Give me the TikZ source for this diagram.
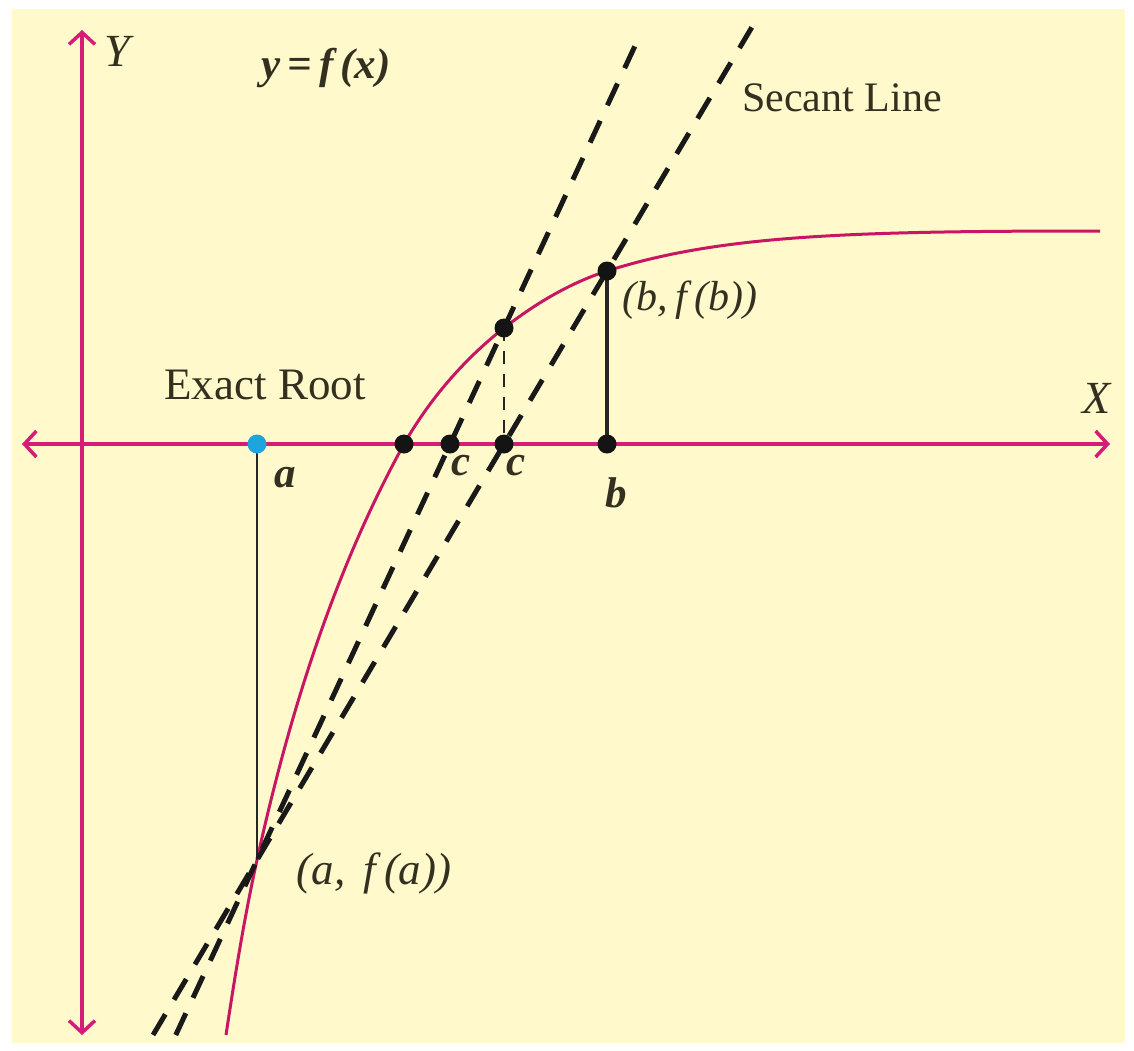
\documentclass[tikz,border=0pt]{standalone}
\usepackage{fontspec}
\setmainfont{Liberation Serif}
\usetikzlibrary{arrows.meta,calc}
\definecolor{bgyellow}{RGB}{255,249,204}
\definecolor{axismag}{RGB}{214,28,118}
\definecolor{curvemag}{RGB}{200,22,98}
\definecolor{txt}{RGB}{52,48,32}
\definecolor{dotblue}{RGB}{30,165,222}
\begin{document}
\begin{tikzpicture}[x=1pt,y=-1pt,
  axisline/.style={draw=axismag,line width=3.5pt,
    {Straight Barb[length=12pt,width=26pt,line width=3.5pt]}-{Straight Barb[length=12pt,width=26pt,line width=3.5pt]}},
  curveline/.style={draw=curvemag,line width=3pt},
  secant/.style={draw=black!90,line width=5pt,dash pattern=on 24pt off 17pt},
  thindash/.style={draw=black!85,line width=2pt,dash pattern=on 13pt off 10pt},
  dropline/.style={draw=black!85,line width=#1},
  dropline/.default=2.5pt,
  blackdot/.style={circle,fill=black!92,minimum size=19pt,inner sep=0pt},
  bluedot/.style={circle,fill=dotblue,minimum size=19pt,inner sep=0pt},
  lbl/.style={text=txt,inner sep=0pt,font=\fontsize{42}{50}\selectfont},
  mlbl/.style={text=txt,inner sep=0pt,font=\fontsize{43}{50}\selectfont\bfseries\itshape},
]
\useasboundingbox (0,0) rectangle (1134,1050);
\fill[white] (0,0) rectangle (1134,1050);
\fill[bgyellow] (12,9) rectangle (1125,1043);

% key points
\coordinate (ytop) at (82,30);
\coordinate (ybot) at (82,1035);
\coordinate (xleft) at (22,444);
\coordinate (xright) at (1110,444);
\coordinate (pa) at (257,444);
\coordinate (fa) at (257,860);
\coordinate (root) at (404,444);
\coordinate (fc) at (504,328);
\coordinate (pc2) at (504,444);
\coordinate (pb) at (607,444);
\coordinate (fb) at (607,271);
\coordinate (pc1) at (450,444);
\coordinate (cstart) at (226,1035);
\coordinate (cend) at (1100,231);

% axes
\draw[axisline] (xleft) -- (xright);
\draw[axisline] (ybot) -- (ytop);

% curve y = f(x)
\draw[curveline] (cstart)
  .. controls (234.8,976.6) and (244.3,917.6) .. (fa)
  .. controls (288.6,716.4) and (333.1,572.8) .. (root)
  .. controls (429.3,399.7) and (463.8,359.4) .. (fc)
  .. controls (535,303.9) and (569.7,283) .. (fb)
  .. controls (720,235) and (850,231) .. (cend);

% vertical drops
\draw[dropline] (pa) -- (fa);
\draw[dropline=4pt] (pb) -- (fb);
\draw[thindash] (fc) -- (pc2);

% secant lines
\draw[secant] ($(fa)!-0.297!(fb)$) -- ($(fa)!1.414!(fb)$);
\draw[secant] ($(fa)!-0.329!(fc)$) -- ($(fa)!1.547!(fc)$);

% dots
\node[bluedot] (na) at (pa) {};
\node[blackdot] (nroot) at (root) {};
\node[blackdot] (nc1) at (pc1) {};
\node[blackdot] (nc2) at (pc2) {};
\node[blackdot] (nb) at (pb) {};
\node[blackdot] (nfb) at (fb) {};
\node[blackdot] (nfc) at (fc) {};

% labels
\node[lbl,font=\fontsize{46}{50}\selectfont\itshape] (lY) at (117,51) {Y};
\node[lbl,font=\fontsize{46}{50}\selectfont\itshape] (lX) at (1097,398) {X};
\node[lbl,font=\fontsize{43}{50}\selectfont\bfseries\itshape] (lyfx) at (326,68) {y\,=\,f\,(x)};
\node[lbl] (lsec) at (842,98) {Secant Line};
\node[lbl,font=\fontsize{45}{50}\selectfont] (lroot) at (265,385) {Exact Root};
\node[mlbl] (la) at (285,478) {a};
\node[mlbl] (lc1) at (461,466) {c};
\node[mlbl] (lc2) at (516,466) {c};
\node[mlbl] (lb) at (616,493) {b};
\node[lbl,font=\fontsize{42}{50}\selectfont\itshape] (lfb) at (690,300) {(b,\,f\,(b))};
\node[lbl,font=\fontsize{45}{50}\selectfont\itshape] (lfa) at (374,873) {(a,\ \,f\,(a))};
\end{tikzpicture}
\end{document}
